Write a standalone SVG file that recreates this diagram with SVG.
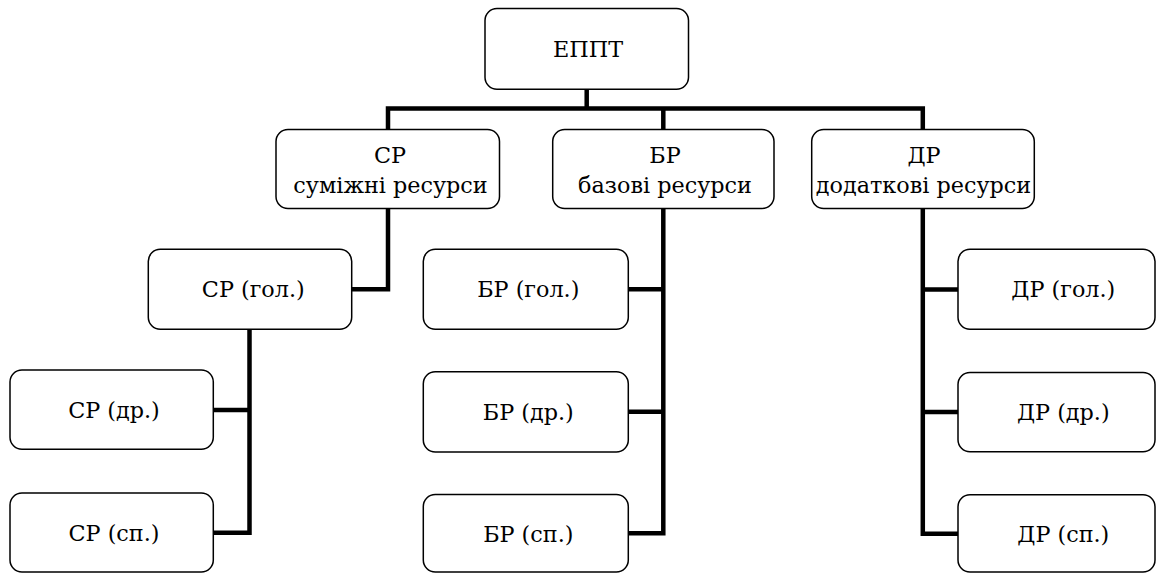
<svg xmlns="http://www.w3.org/2000/svg" width="1156" height="573" viewBox="0 0 1156 573">
<style>
.box{fill:#fff;stroke:#000;stroke-width:1.5}
.conn{fill:none;stroke:#000;stroke-width:4.5;stroke-linejoin:miter;stroke-linecap:butt}
.lbl{font-family:'DejaVu Serif','Liberation Serif',serif;font-size:22.3px;fill:#000;text-anchor:middle}
</style>
<rect width="1156" height="573" fill="#fff"/>
<g id="connectors" class="conn">
<path d="M586.7,89.3 V108.5"/>
<path d="M388,129.5 V108.5 H922.8 V129.5"/>
<path d="M663.3,108.5 V129.5"/>
<path d="M388,208.5 V289.3 H351.7"/>
<path d="M249.5,329.3 V532.8 H213.3"/>
<path d="M249.5,410 H213.3"/>
<path d="M663.3,208.5 V533.3 H628.3"/>
<path d="M663.3,289.3 H628.3"/>
<path d="M663.3,411.8 H628.3"/>
<path d="M922.8,208.5 V533.8 H958"/>
<path d="M922.8,289.5 H958"/>
<path d="M922.8,412 H958"/>
</g>
<g id="n-eppt">
<rect class="box" x="485" y="8.5" width="203.5" height="80.8" rx="12"/>
<text class="lbl" x="588" y="57">ЕППТ</text>
</g>
<g id="n-sr">
<rect class="box" x="276" y="129.5" width="223.5" height="79" rx="12"/>
<text class="lbl" x="390" y="162.5">СР</text>
<text class="lbl" x="390.5" y="193">суміжні ресурси</text>
</g>
<g id="n-br">
<rect class="box" x="552.7" y="129.5" width="221.3" height="79" rx="12"/>
<text class="lbl" x="665" y="162.5">БР</text>
<text class="lbl" x="665" y="193">базові ресурси</text>
</g>
<g id="n-dr">
<rect class="box" x="811.7" y="129.5" width="222.6" height="79" rx="12"/>
<text class="lbl" x="924" y="162.5">ДР</text>
<text class="lbl" x="923.5" y="193">додаткові ресурси</text>
</g>
<g id="n-sr-gol">
<rect class="box" x="148.3" y="249.3" width="203.4" height="80" rx="12"/>
<text class="lbl" x="253.3" y="297.3">СР (гол.)</text>
</g>
<g id="n-sr-dr">
<rect class="box" x="10" y="370" width="203.3" height="79.3" rx="12"/>
<text class="lbl" x="114" y="418">СР (др.)</text>
</g>
<g id="n-sr-sp">
<rect class="box" x="10" y="493" width="203.3" height="79" rx="12"/>
<text class="lbl" x="114" y="541">СР (сп.)</text>
</g>
<g id="n-br-gol">
<rect class="box" x="423.3" y="249.3" width="205" height="80" rx="12"/>
<text class="lbl" x="528.3" y="297.3">БР (гол.)</text>
</g>
<g id="n-br-dr">
<rect class="box" x="423.3" y="371.7" width="205" height="80.3" rx="12"/>
<text class="lbl" x="528.3" y="419.8">БР (др.)</text>
</g>
<g id="n-br-sp">
<rect class="box" x="423.3" y="494.5" width="205" height="77.5" rx="12"/>
<text class="lbl" x="528.3" y="541.5">БР (сп.)</text>
</g>
<g id="n-dr-gol">
<rect class="box" x="958" y="249.3" width="197" height="80" rx="12"/>
<text class="lbl" x="1063.3" y="297.3">ДР (гол.)</text>
</g>
<g id="n-dr-dr">
<rect class="box" x="958" y="372.5" width="197" height="79.3" rx="12"/>
<text class="lbl" x="1063.3" y="420.3">ДР (др.)</text>
</g>
<g id="n-dr-sp">
<rect class="box" x="958" y="494.8" width="197" height="77.2" rx="12"/>
<text class="lbl" x="1063.3" y="542">ДР (сп.)</text>
</g>
</svg>
